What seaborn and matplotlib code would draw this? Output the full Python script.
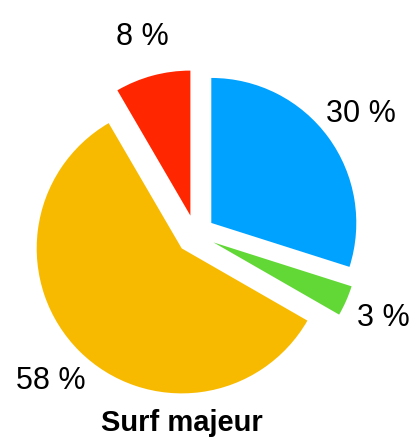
#!/usr/bin/env python3
"""Exploded pie chart: Surf majeur."""

import matplotlib
matplotlib.use('Agg')
import matplotlib.pyplot as plt
import seaborn as sns

# data (clockwise from 12 o'clock)
categories = ['A', 'B', 'C', 'D']
shares = [29.9, 3.4, 58.3, 8.4]
colors = ['#00A2FF', '#61D836', '#F8BA00', '#FF2600']
title = 'Surf majeur'

sns.set_style('white')
plt.rcParams['font.family'] = ['Liberation Sans', 'DejaVu Sans']

W, H = 413, 439
fig = plt.figure(figsize=(W / 100, H / 100), dpi=100)
ax = fig.add_axes([0, 0, 1, 1])

ax.pie(
    shares,
    colors=colors,
    startangle=90,
    counterclock=False,
    explode=[0.135] * len(shares),
    autopct=lambda p: f'{round(p)} %',
    pctdistance=1.28,
    textprops={'fontsize': 22, 'color': 'black'},
    wedgeprops={'linewidth': 0},
)

# one data unit = pie radius = 145 px, pie centre at (195, 235) px
r_px, cx, cy = 145, 195.5, 235.5
ax.set_xlim(-cx / r_px, (W - cx) / r_px)
ax.set_ylim(-(H - cy) / r_px, cy / r_px)
ax.set_aspect('auto')
ax.axis('off')

fig.text(181.5 / W, 1 - 431 / H, title, ha='center', va='baseline',
         fontsize=21, fontweight='bold', color='black')

fig.savefig('out.png', dpi=100)
plt.close(fig)
